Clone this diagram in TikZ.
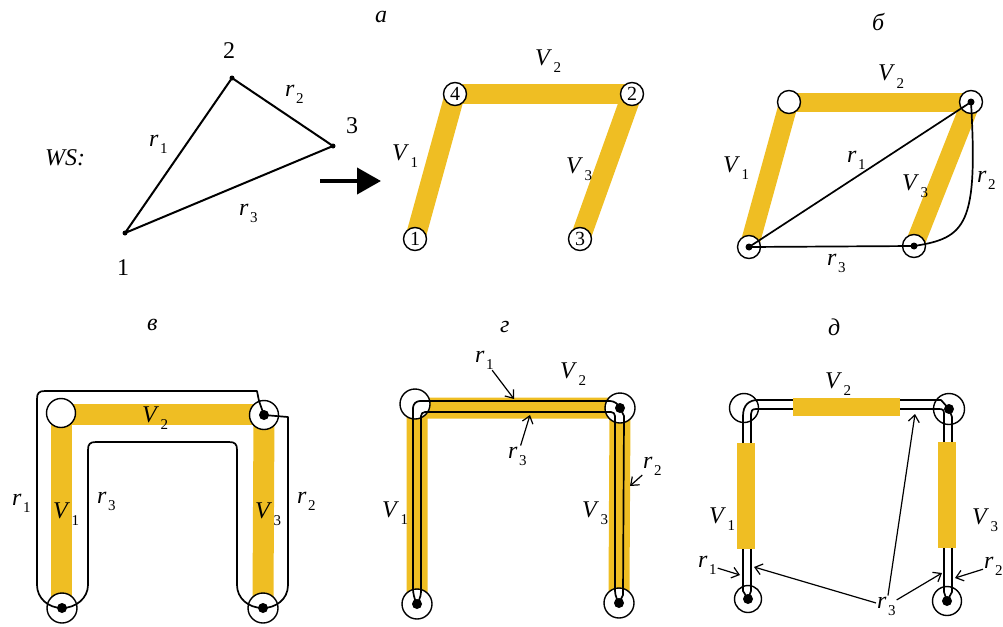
\documentclass[tikz,border=0pt]{standalone}
\usepackage{fontspec}
\setmainfont{Liberation Serif}
\usetikzlibrary{calc,arrows.meta}
\definecolor{yel}{RGB}{239,190,35}
\pgfdeclarelayer{bg}
\pgfdeclarelayer{fg}
\pgfsetlayers{bg,main,fg}
\newcommand{\lb}[2]{\textit{#1}\kern1.5pt\raisebox{-0.3em}{\fontsize{15}{15}\selectfont #2}}
\begin{document}
\begin{tikzpicture}[x=1pt,y=-1pt,
  lab/.style={inner sep=0pt, anchor=base west, font=\fontsize{24}{28}\selectfont},
  pt/.style={circle, fill=black, inner sep=0pt, minimum size=5pt},
  dotn/.style={circle, fill=black, inner sep=0pt, minimum size=#1},
  dotn/.default=10pt,
  numc/.style={circle, draw, line width=1.4pt, fill=white, minimum size=23pt, inner sep=0pt, font=\fontsize{20}{20}\selectfont},
  oc/.style={circle, draw, line width=1.4pt, fill=white, minimum size=#1, inner sep=0pt},
  oc/.default=23pt,
  bar/.style={yel, line width=#1},
  bar/.default=20pt,
  tri/.style={line width=2pt, line join=round},
  rl/.style={line width=1.7pt, line join=round},
  ptr/.style={line width=1.2pt, shorten <=1pt, -{Straight Barb[length=7pt,width=11pt]}},
  bigarrow/.style={line width=4pt, -{Triangle[length=24pt,width=26pt]}}
]
\useasboundingbox (0,0) rectangle (1003,626);

% ---------------- WS triangle ----------------
\node[pt] (t1) at (125,233) {};
\node[pt] (t2) at (232,78) {};
\node[pt] (t3) at (333,146) {};
\draw[tri] (t1.center) -- (t2.center) -- (t3.center) -- cycle;
\node[lab] (ws) at (45,165) {\textit{WS:}};
\node[lab] (n1) at (117,275) {1};
\node[lab] (n2) at (223,59) {2};
\node[lab] (n3) at (346,133) {3};
\node[lab] (tr1) at (149,146) {\lb{r}{1}};
\node[lab] (tr2) at (285,96) {\lb{r}{2}};
\node[lab] (tr3) at (239,215) {\lb{r}{3}};

\coordinate (arS) at (320,181);
\coordinate (arE) at (381,181);
\draw[bigarrow] (arS) -- (arE);

% ---------------- panel a ----------------
\node[lab] (la) at (375,23) {\textit{а}};
\node[numc] (a1) at (415,239) {1};
\node[numc] (a4) at (455,94) {4};
\node[numc] (a2) at (632,94) {2};
\node[numc] (a3) at (580,239) {3};
\begin{pgfonlayer}{bg}
\draw[bar] (a1.center) -- (a4.center);
\draw[bar] (a4.center) -- (a2.center);
\draw[bar] (a2.center) -- (a3.center);
\end{pgfonlayer}
\node[lab] (aV2) at (535,65) {\lb{V}{2}};
\node[lab] (aV1) at (392,160) {\lb{V}{1}};
\node[lab] (aV3) at (566,173) {\lb{V}{3}};

% ---------------- panel b ----------------
\node[lab] (lbb) at (872,31) {\textit{б}};
\node[oc] (bTL) at (789,102) {};
\node[oc] (bTR) at (971,102) {};
\node[oc] (bBL) at (749,247) {};
\node[oc] (bBR) at (914,246) {};
\begin{pgfonlayer}{bg}
\draw[bar=19pt] (bBL.center) -- (bTL.center);
\draw[bar=19pt] (bTL.center) -- (bTR.center);
\draw[bar=19pt] (bTR.center) -- (bBR.center);
\end{pgfonlayer}
\draw[rl] (bBL.center) -- (bTR.center);
\draw[rl] (bBL.center) -- (bBR.center);
\draw[rl] (bTR.center) .. controls (978,225) and (966,238) .. (bBR.center);
\begin{pgfonlayer}{fg}
\node[dotn=7pt] (bTRd) at (bTR.center) {};
\node[dotn=7pt] (bBLd) at (bBL.center) {};
\node[dotn=7pt] (bBRd) at (bBR.center) {};
\end{pgfonlayer}
\node[lab] (bV2) at (878,81) {\lb{V}{2}};
\node[lab] (bV1) at (723,172) {\lb{V}{1}};
\node[lab] (br1) at (847,162) {\lb{r}{1}};
\node[lab] (bV3) at (902,190) {\lb{V}{3}};
\node[lab] (br2) at (977,182) {\lb{r}{2}};
\node[lab] (br3) at (827,265) {\lb{r}{3}};

% ---------------- panel v ----------------
\node[lab] (lv) at (147,330) {\textit{в}};
\node[oc=29pt] (vTL) at (61,413) {};
\node[oc=29pt] (vTR) at (264,415) {};
\node[oc=30pt] (vBL) at (62,608) {};
\node[oc=30pt] (vBR) at (263,608) {};
\begin{pgfonlayer}{bg}
\draw[bar=21pt] ($(vBL)+(-1,-10)$) -- ($(vTL)+(0,1)$) -- ($(vTR)+(0,-1)$);
\draw[bar=21pt] (vTR.center) -- ($(vBR)+(0,-10)$);
\end{pgfonlayer}
% r1 (outer, left and top)
\draw[rl] (vBL.center) .. controls (48,608) and (37,598) .. (37,585)
  -- (37,399) .. controls (37,393) and (39,391) .. (45,391)
  -- (257,391) -- (259,401) -- (vTR.center);
% r2 (outer right)
\draw[rl] (vTR.center) -- (288,417) -- (288,585)
  .. controls (288,600) and (275,608) .. (vBR.center);
% r3 (inner)
\draw[rl] (vBL.center) .. controls (76,608) and (88,598) .. (88,585)
  -- (88,450) .. controls (88,444) and (90,442) .. (96,442)
  -- (229,442) .. controls (235,442) and (237,444) .. (237,450)
  -- (237,585) .. controls (237,598) and (248,608) .. (vBR.center);
\begin{pgfonlayer}{fg}
\node[dotn] (vTRd) at (vTR.center) {};
\node[dotn] (vBLd) at (vBL.center) {};
\node[dotn] (vBRd) at (vBR.center) {};
\end{pgfonlayer}
\node[lab] (vV2) at (142,422) {\lb{V}{2}};
\node[lab] (vV1) at (53,518) {\lb{V}{1}};
\node[lab] (vV3) at (255,518) {\lb{V}{3}};
\node[lab] (vr1) at (12,505) {\lb{r}{1}};
\node[lab] (vr3) at (97,503) {\lb{r}{3}};
\node[lab] (vr2) at (297,503) {\lb{r}{2}};

% ---------------- panel g ----------------
\node[lab] (lg) at (500,332) {\textit{г}};
\node[oc=30pt] (gTL) at (415,404) {};
\node[oc=30pt] (gTR) at (620,408) {};
\node[oc=30pt] (gBL) at (417,604) {};
\node[oc=30pt] (gBR) at (619,603) {};
\begin{pgfonlayer}{bg}
\draw[bar=21pt] ($(gBL)+(0,-12)$) |- (gTR.center) -- ($(gBR)+(0,-12)$);
\end{pgfonlayer}
\draw[rl, rounded corners=7pt] (gBL.center) -- ($(gBL)+(-4,-8)$) |- ($(gTR)+(-3,-7)$) -- (gTR.center);
\draw[rl, rounded corners=4pt] (gBL.center) -- ($(gBL)+(4,-8)$) |- ($(gTR)+(-5,4)$) -- ($(gBR)+(-4,-8)$) -- (gBR.center);
\draw[rl] (gTR.center) -- ($(gTR)+(4,8)$) -- ($(gBR)+(4,-8)$) -- (gBR.center);
\begin{pgfonlayer}{fg}
\node[dotn] (gTRd) at (gTR.center) {};
\node[dotn] (gBLd) at (gBL.center) {};
\node[dotn] (gBRd) at (gBR.center) {};
\end{pgfonlayer}
\node[lab] (gr1) at (475,362) {\lb{r}{1}};
\node[lab] (gV2) at (560,378) {\lb{V}{2}};
\node[lab] (gr3) at (508,458) {\lb{r}{3}};
\node[lab] (gr2) at (643,468) {\lb{r}{2}};
\node[lab] (gV1) at (382,517) {\lb{V}{1}};
\node[lab] (gV3) at (582,517) {\lb{V}{3}};
\coordinate (gr1t) at (514,399);
\coordinate (gr3t) at (530,415);
\coordinate (gr2t) at (630,486);
\draw[ptr] (gr1) -- (gr1t);
\draw[ptr] (gr3) -- (gr3t);
\draw[ptr] (gr2) -- (gr2t);

% ---------------- panel d ----------------
\node[lab] (ld) at (828,335) {\textit{д}};
\node[oc=29pt] (dTL) at (744,408) {};
\node[oc=31pt] (dTR) at (949,409) {};
\node[oc=27pt] (dBL) at (748,599) {};
\node[oc=29pt] (dBR) at (947,601) {};
% r1 outer
\draw[rl] (dBL.center) -- (743,591) -- (743,416)
  .. controls (743,405) and (749,400) .. (758,400) -- (941,400) -- (dTR.center);
% r3 inner
\draw[rl] (dBL.center) -- (751,591) -- (751,414)
  .. controls (751,411) and (752,409) .. (756,409) -- (939,409)
  .. controls (943,409) and (944,410) .. (944,414) -- (944,592) -- (dBR.center);
% r2
\draw[rl] (dTR.center) -- (952,417) -- (952,592) -- (dBR.center);
\begin{pgfonlayer}{fg}
\fill[yel] (793,398) rectangle (900,416);
\fill[yel] (737,443) rectangle (755,549);
\fill[yel] (938,442) rectangle (956,548);
\node[dotn] (dTRd) at (dTR.center) {};
\node[dotn] (dBLd) at (dBL.center) {};
\node[dotn] (dBRd) at (dBR.center) {};
\end{pgfonlayer}
\node[lab] (dV2) at (825,388) {\lb{V}{2}};
\node[lab] (dV1) at (709,523) {\lb{V}{1}};
\node[lab] (dV3) at (972,524) {\lb{V}{3}};
\node[lab] (dr1) at (698,567) {\lb{r}{1}};
\node[lab] (dr2) at (984,568) {\lb{r}{2}};
\node[lab] (dr3) at (877,608) {\lb{r}{3}};
\coordinate (dr1t) at (740,575);
\coordinate (dr3a) at (754,567);
\coordinate (dr3b) at (915,414);
\coordinate (dr3c) at (942,573);
\coordinate (dr2t) at (955,578);
\draw[ptr] (dr1) -- (dr1t);
\draw[ptr] (dr3) -- (dr3a);
\draw[ptr] (dr3) -- (dr3b);
\draw[ptr] (dr3) -- (dr3c);
\draw[ptr] (dr2) -- (dr2t);
\end{tikzpicture}
\end{document}
